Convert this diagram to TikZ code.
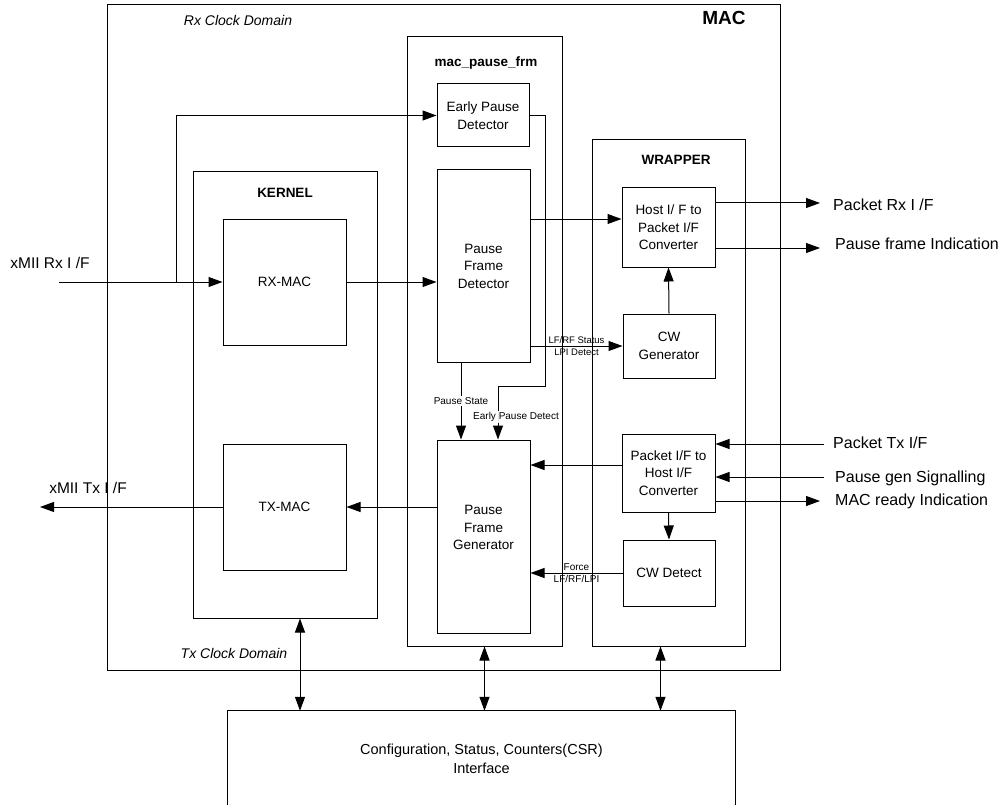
\documentclass[tikz,border=0pt]{standalone}
\usepackage{fontspec}
\setmainfont{Liberation Sans}
\usetikzlibrary{arrows.meta,calc}
\begin{document}
\begin{tikzpicture}[x=1pt,y=-1pt,
  box/.style={draw, line width=1pt, inner sep=0pt, align=center, font=\fontsize{13.5}{17.5}\selectfont},
  cont/.style={draw, line width=1pt, inner sep=0pt},
  title/.style={font=\bfseries\fontsize{13.5}{16}\selectfont},
  lbl/.style={font=\fontsize{10}{12.5}\selectfont, align=center, inner sep=1pt},
  rlbl/.style={font=\fontsize{16}{19}\selectfont, anchor=west, inner sep=0pt},
  dom/.style={font=\itshape\fontsize{14}{17}\selectfont},
  arr/.style={-{Triangle[length=14pt,width=10pt]}, line width=1pt},
  darr/.style={{Triangle[length=14pt,width=10pt]}-{Triangle[length=14pt,width=10pt]}, line width=1pt}]
\useasboundingbox (0,0) rectangle (1006,805);

% containers
\node[cont, minimum width=673pt, minimum height=665pt] (mac) at (443.5,337.5) {};
\node[cont, minimum width=155pt, minimum height=609pt] (mpf) at (484.5,341.5) {};
\node[cont, minimum width=153pt, minimum height=506pt] (wrap) at (668.5,393) {};
\node[cont, minimum width=184pt, minimum height=446pt] (kernel) at (285,395) {};

\node[font=\bfseries\fontsize{19}{22}\selectfont] (mactitle) at (724,18) {MAC};
\node[dom] (rxdom) at (238,20) {Rx Clock Domain};
\node[dom] (txdom) at (234,653) {Tx Clock Domain};
\node[title] (mpftitle) at (486,63) {mac\_pause\_frm};
\node[title] (wraptitle) at (676,160) {WRAPPER};
\node[title] (kerntitle) at (285,193) {KERNEL};

% blocks
\node[box, minimum width=123pt, minimum height=126pt] (rxmac) at (284.5,282) {RX-MAC};
\node[box, minimum width=123pt, minimum height=126pt] (txmac) at (284.5,507) {TX-MAC};
\node[box, minimum width=92pt, minimum height=63pt] (epd) at (483,115.5) {Early Pause\\Detector};
\node[box, minimum width=93pt, minimum height=192pt] (pfd) at (483.5,266) {Pause\\Frame\\Detector};
\node[box, minimum width=93pt, minimum height=193pt] (pfg) at (483.5,536.5) {Pause\\Frame\\Generator\\\mbox{}};
\node[box, minimum width=93pt, minimum height=79pt] (hconv) at (668.5,227.5) {Host I/ F to\\Packet I/F\\Converter};
\node[box, minimum width=92pt, minimum height=64pt] (cwgen) at (669,346) {CW\\Generator};
\node[box, minimum width=93pt, minimum height=78pt] (pconv) at (668.5,473) {Packet I/F to\\Host I/F\\Converter};
\node[box, minimum width=92pt, minimum height=66pt] (cwdet) at (669,573) {CW Detect};

% CSR (open at the bottom)
\node[align=center, inner sep=0pt, minimum width=507pt, minimum height=96pt, font=\fontsize{14.5}{19}\selectfont] (csr) at (481.5,759) {Configuration, Status, Counters(CSR)\\Interface};
\draw[line width=1pt] (csr.south west) -- (csr.north west) -- (csr.north east) -- (csr.south east);

% Rx input
\coordinate (rxin) at (59,282);
\coordinate (br) at (176,282);
\node[font=\fontsize{15.5}{18}\selectfont] (rxlbl) at (50,263) {xMII Rx I /F};
\draw[arr] (rxin) -- (rxmac.west);
\draw[arr] (br) |- (epd.west);
\draw[arr] (rxmac.east) -- (rxmac.east -| pfd.west);

% Tx output
\coordinate (txo) at (40,507);
\node[font=\fontsize{15.5}{18}\selectfont] (txlbl) at (88,488) {xMII Tx I /F};
\draw[arr] (txmac.west) -- (txo);
\draw[arr] (txmac.east -| pfg.west) -- (txmac.east);

% pause frm internals
\coordinate (p1) at ([yshift=47pt]pfd.east);
\draw[arr] (p1) -- (p1 -| hconv.west);
\draw[arr] (cwgen.west -| pfd.east) -- (cwgen.west) node[midway, lbl, font=\fontsize{9.5}{12}\selectfont] {LF/RF Status\\LPI Detect};
\draw[arr] ([xshift=-22.5pt]pfd.south) -- ([xshift=-22.5pt]pfd.south |- pfg.north) node[pos=0.5, lbl, fill=white] {Pause State};
\coordinate (k) at (545,386);
\draw[arr] (epd.east) -| (k) -| ([xshift=14.5pt]pfg.north);
\node[lbl, fill=white, fill opacity=0.9, text opacity=1] (epdlbl) at (516,417) {Early Pause Detect};

% wrapper
\draw[arr] (cwgen.north) -- (hconv.south);
\draw[arr] (pconv.south) -- (cwdet.north);
\draw[arr] ([yshift=8pt]pconv.west) -- ([yshift=8pt]pconv.west -| pfg.east);
\draw[arr] (cwdet.west) -- (cwdet.west -| pfg.east) node[midway, lbl] {Force\\LF/RF/LPI};

% right side I/O
\coordinate (prx) at (820,203);
\coordinate (pfi) at (820,248);
\coordinate (ptx) at (820,444);
\coordinate (pgs) at (820,477);
\coordinate (mrd) at (820,501);
\draw[arr] (prx -| hconv.east) -- (prx);
\draw[arr] (pfi -| hconv.east) -- (pfi);
\draw[arr] ([xshift=4pt]ptx) -- (ptx -| pconv.east);
\draw[arr] ([xshift=4pt]pgs) -- (pgs -| pconv.east);
\draw[arr] (mrd -| pconv.east) -- (mrd);
\node[rlbl] (prxl) at (833,205) {Packet Rx I /F};
\node[rlbl] (pfil) at (835,244) {Pause frame Indication};
\node[rlbl] (ptxl) at (833,443) {Packet Tx I/F};
\node[rlbl] (pgsl) at (835,478) {Pause gen Signalling};
\node[rlbl] (mrdl) at (835,501) {MAC ready Indication};

% CSR links
\draw[darr] ([xshift=15pt]kernel.south) -- ([xshift=15pt]kernel.south |- csr.north);
\draw[darr] (mpf.south) -- (mpf.south |- csr.north);
\draw[darr] ([xshift=-8pt]wrap.south) -- ([xshift=-8pt]wrap.south |- csr.north);
\end{tikzpicture}
\end{document}
